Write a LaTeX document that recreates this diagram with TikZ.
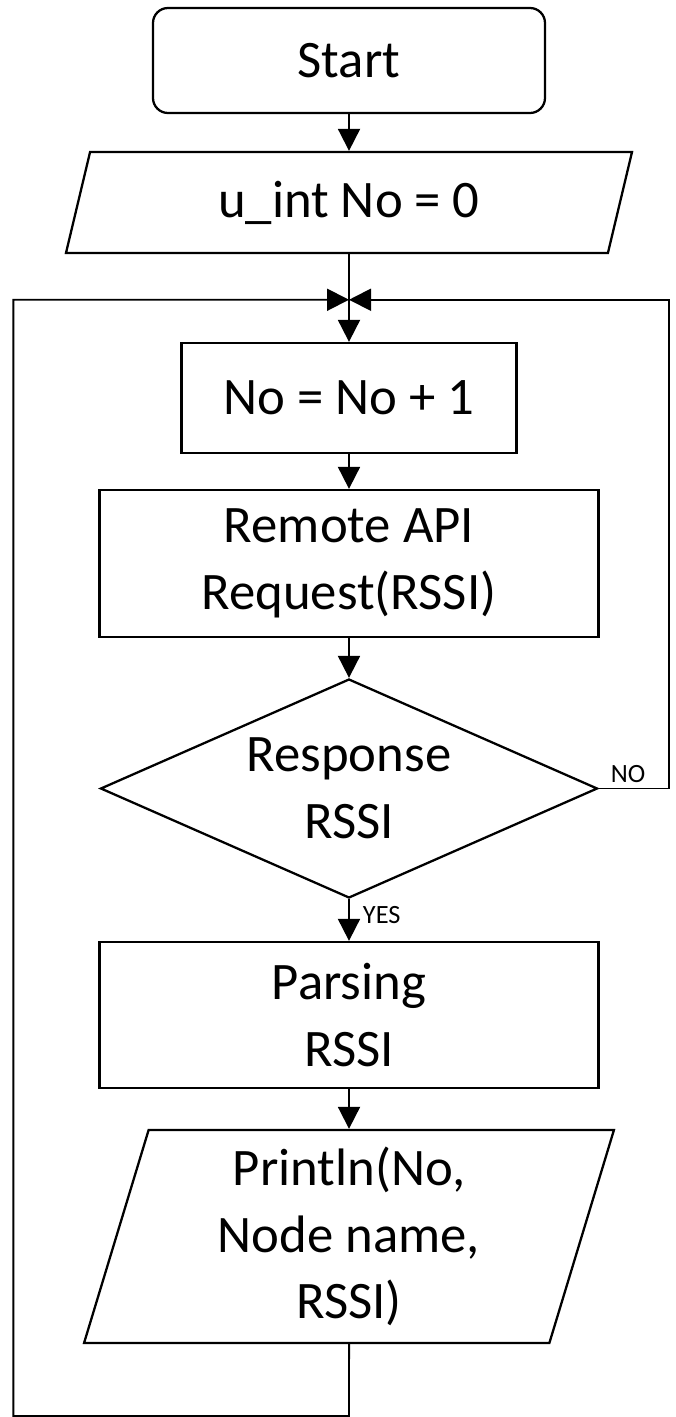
\documentclass[tikz,border=0pt]{standalone}
\usepackage{fontspec}
\setmainfont{Carlito}
\usetikzlibrary{shapes,arrows.meta,positioning,calc}
\tikzstyle{terminal} = [draw, rectangle, rounded corners=0.3cm, minimum width=7.84cm, minimum height=2.1cm]
\tikzstyle{io} = [draw, trapezium, trapezium left angle=77, trapezium right angle=103, trapezium stretches=true, minimum width=11.34cm, minimum height=2.02cm]
\tikzstyle{block} = [draw, rectangle, minimum width=9.98cm, minimum height=2.94cm]
\tikzstyle{decision} = [draw, diamond, aspect=2.27, inner sep=0pt, minimum width=9.94cm, minimum height=4.38cm]
\tikzstyle{tag} = [font=\fontsize{15pt}{18pt}\selectfont, inner sep=0.1cm]
\tikzstyle{line} = [draw, line width=1.1pt]

\begin{document}
\begin{tikzpicture}[>={Triangle[length=0.44cm,width=0.44cm]}, line width=1.3pt, font=\fontsize{30pt}{38pt}\selectfont, align=center]
    \useasboundingbox (-6.98,1.21) rectangle (6.54,-27.13);
    % Nodes
    \node [terminal] (start) {Start};
    \node [io, below of=start, node distance=2.84cm] (init) {u\_int No = 0};
    \node [block, below of=init, node distance=3.91cm, minimum width=6.7cm, minimum height=2.2cm] (count) {No = No + 1};
    \node [block, below of=count, node distance=3.31cm] (request) {Remote API\\Request(RSSI)};
    \node [decision, below of=request, node distance=4.5cm] (response) {Response\\RSSI};
    \node [block, below of=response, node distance=4.53cm, minimum height=2.92cm] (parse) {Parsing\\RSSI};
    \node [io, below of=parse, node distance=4.43cm, minimum width=10.6cm, minimum height=4.26cm] (print) {Println(No,\\Node name,\\RSSI)};
    \coordinate (join) at ($(init.south)!0.52!(count.north)$);
    \coordinate [right=1.4cm of response.east] (noturn);
    \coordinate [left=1.72cm of response.west] (loopside);
    \coordinate [below=1.44cm of print.south] (back);

    % Connections
    \draw [line, ->] (start) -- (init);
    \draw [line, ->] (init) -- (count);
    \draw [line, ->] (count) -- (request);
    \draw [line, ->] (request) -- (response);
    \draw [line, ->] (response) -- node [tag, right=0.16cm, pos=0.38] {YES} (parse);
    \draw [line, ->] (parse) -- (print);
    \draw [line, ->] (response.east) -- node [tag, above, pos=0.42] {NO} (noturn) |- (join);
    \draw [line, ->] (print) -- (back) -| (loopside) |- (join);
\end{tikzpicture}
\end{document}
